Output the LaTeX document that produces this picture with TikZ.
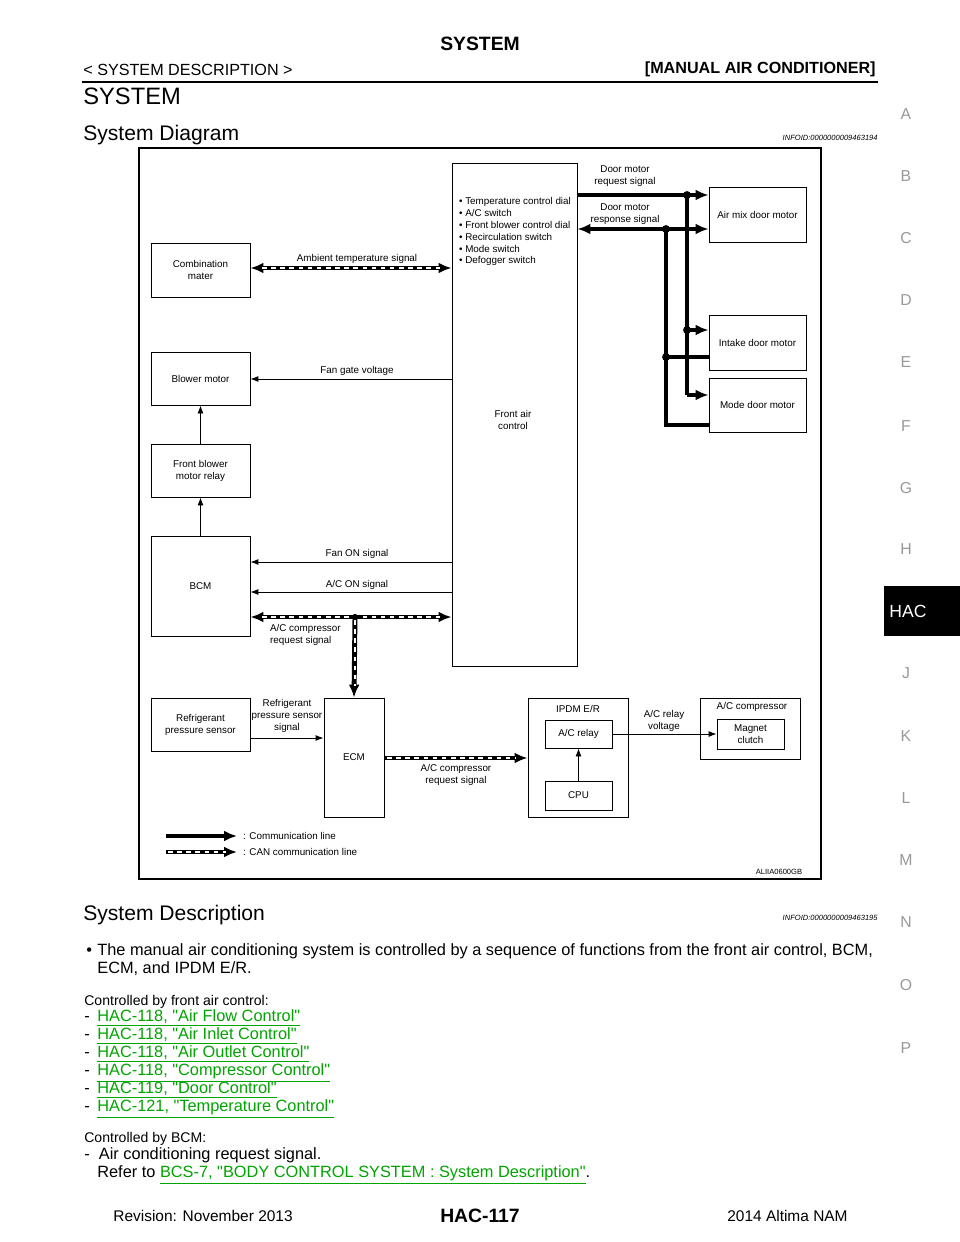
\documentclass[tikz,border=0pt]{standalone}
\usepackage{fontspec}
\setmainfont{Liberation Sans}
\usepackage{xcolor}
\usetikzlibrary{arrows.meta, positioning}
\definecolor{linkgreen}{RGB}{0,165,0}
\tikzset{
  box/.style={draw, line width=0.5pt, align=center, font=\fontsize{5.6}{6.8}\selectfont, inner sep=1pt},
  lbl/.style={align=center, font=\fontsize{5.6}{6.8}\selectfont, inner sep=1pt},
  comm/.style={line width=1.8pt, -{Latex[length=2.6mm,width=2.2mm]}},
  thin/.style={line width=0.5pt, -{Latex[length=1.6mm,width=1.2mm]}},
  canbase/.style={line width=2.8pt},
  candash/.style={white, line width=1pt, dash pattern=on 2.6pt off 2.6pt},
  jdot/.style={circle, fill, inner sep=0pt, minimum size=4.5pt},
  body/.style={anchor=base west, inner sep=0pt, font=\fontsize{9.3}{11}\selectfont},
  link/.style={body, text=linkgreen}
}
\newcommand\lnk[1]{\underline{#1}}
\newcommand\q{\textquotedbl}
\begin{document}
\begin{tikzpicture}[x=0.02cm, y=-0.02cm]
  \useasboundingbox[fill=white] (0,0) rectangle (960,1242);
  % Page header
  \node[font=\bfseries\fontsize{11}{13}\selectfont] (ttl) at (480,44) {SYSTEM};
  \node[body, font=\fontsize{9.2}{11}\selectfont] (sect) at (83,75) {< SYSTEM DESCRIPTION >};
  \node[anchor=base east, inner sep=0pt, font=\bfseries\fontsize{9.2}{11}\selectfont] (man) at (876,73) {[MANUAL AIR CONDITIONER]};
  \draw[line width=1.2pt] (82,82) -- (878,82);
  \node[body, font=\fontsize{13.5}{15}\selectfont] (h1) at (83,104) {SYSTEM};
  \node[body, font=\fontsize{12}{14}\selectfont] (h2) at (83,140) {System Diagram};
  \node[anchor=base east, inner sep=0pt, font=\itshape\fontsize{4.3}{5}\selectfont] (id1) at (878,140) {INFOID:0000000009463194};
  % Side index
  \foreach \c/\yy in {A/114,B/176,C/238,D/300,E/362,F/426,G/488,H/549,J/673,K/736,L/798,M/860,N/922,O/985,P/1048}{
    \node[text=black!40, font=\fontsize{9}{10}\selectfont] (side\c) at (906,\yy) {\c};
  }
  \fill (884,586) rectangle (960,636);
  \node[text=white, font=\fontsize{10}{12}\selectfont] (tab) at (908,611) {HAC};

  % Diagram frame
  \draw[line width=1.2pt] (139,148) rectangle (821,879);

  % Boxes
  \node[box, minimum width=2.5cm, minimum height=10.06cm] (fac) at (514.5,414.5) {};
  \node[lbl, anchor=north west, align=left] (items) at (457,195) {%
    • Temperature control dial\\ • A/C switch\\ • Front blower control dial\\
    • Recirculation switch\\ • Mode switch\\ • Defogger switch};
  \node[lbl] (facl) at (513,420) {Front air\\control};
  \node[box, minimum width=1.98cm, minimum height=1.08cm] (comb) at (200.5,270) {Combination\\mater};
  \node[box, minimum width=1.98cm, minimum height=1.06cm] (blow) at (200.5,378.5) {Blower motor};
  \node[box, minimum width=1.98cm, minimum height=1.06cm] (relay) at (200.5,470.5) {Front blower\\motor relay};
  \node[box, minimum width=1.98cm, minimum height=2cm] (bcm) at (200.5,586) {BCM};
  \node[box, minimum width=1.98cm, minimum height=1.06cm] (refs) at (200.5,724.5) {Refrigerant\\pressure sensor};
  \node[box, minimum width=1.2cm, minimum height=2.38cm] (ecm) at (354,757.5) {ECM};
  \node[box, minimum width=2cm, minimum height=2.38cm] (ipdm) at (578,757.5) {};
  \node[lbl] (ipdml) at (578,709) {IPDM E/R};
  \node[box, minimum width=1.34cm, minimum height=0.56cm] (acr) at (578.5,734) {A/C relay};
  \node[box, minimum width=1.34cm, minimum height=0.58cm] (cpu) at (578.5,795.5) {CPU};
  \node[box, minimum width=2cm, minimum height=1.22cm] (comp) at (750,728.5) {};
  \node[lbl] (compl) at (752,707) {A/C compressor};
  \node[box, minimum width=1.34cm, minimum height=0.6cm] (clutch) at (750.5,734) {Magnet\\clutch};
  \node[box, minimum width=1.94cm, minimum height=1.1cm] (amix) at (757.5,214.5) {Air mix door motor};
  \node[box, minimum width=1.94cm, minimum height=1.1cm] (intake) at (757.5,342.5) {Intake door motor};
  \node[box, minimum width=1.94cm, minimum height=1.08cm] (mode) at (757.5,405) {Mode door motor};

  % Door motor lines
  \coordinate (rq) at (687,195);
  \coordinate (rs) at (666,229);
  \draw[comm] (fac.east |- rq) -- (amix.west |- rq);
  \draw[line width=1.8pt] (rq) -- (687,395);
  \draw[comm] (687,330) -- (intake.west |- 0,330);
  \draw[comm] (687,395) -- (mode.west |- 0,395);
  \draw[line width=1.8pt, {Latex[length=2.6mm,width=2.2mm]}-{Latex[length=2.6mm,width=2.2mm]}] (fac.east |- rs) -- (amix.west |- rs);
  \draw[line width=1.8pt] (rs) -- (666,425) -- (mode.west |- 0,425);
  \draw[line width=1.8pt] (666,357) -- (intake.west |- 0,357);
  \node[jdot] (d1) at (rq) {};
  \node[jdot] (d2) at (687,330) {};
  \node[jdot] (d3) at (rs) {};
  \node[jdot] (d4) at (666,357) {};
  \node[lbl] (rql) at (625,176) {Door motor\\request signal};
  \node[lbl] (rsl) at (625,214) {Door motor\\response signal};

  % CAN lines
  \draw[canbase, {Latex[length=2.6mm,width=2.2mm]}-{Latex[length=2.6mm,width=2.2mm]}] (comb.east |- 0,268) -- (fac.west |- 0,268);
  \draw[candash] (262,268) -- (440,268);
  \node[lbl] (ambl) at (357,259) {Ambient temperature signal};
  \draw[canbase, {Latex[length=2.6mm,width=2.2mm]}-{Latex[length=2.6mm,width=2.2mm]}] (bcm.east |- 0,617) -- (fac.west |- 0,617);
  \draw[canbase, -{Latex[length=2.6mm,width=2.2mm]}] (355,617) -- (ecm.north);
  \draw[candash] (262,617) -- (440,617);
  \draw[candash] (355,620) -- (355,686);
  \node[jdot, minimum size=3.5pt] (d5) at (355,617) {};
  \node[lbl, anchor=north west, align=left] (reql1) at (268,622) {A/C compressor\\request signal};
  \draw[canbase, -{Latex[length=2.6mm,width=2.2mm]}] (ecm.east |- 0,758) -- (ipdm.west |- 0,758);
  \draw[candash] (387,758) -- (516,758);
  \node[lbl, anchor=north] (reql2) at (456,762) {A/C compressor\\request signal};

  % Signal lines
  \draw[thin] (fac.west |- 0,379) -- (blow.east |- 0,379);
  \node[lbl] (fgl) at (357,371) {Fan gate voltage};
  \draw[thin] (relay.north) -- (blow.south);
  \draw[thin] (bcm.north) -- (relay.south);
  \draw[thin] (fac.west |- 0,562) -- (bcm.east |- 0,562);
  \node[lbl] (fanl) at (357,554) {Fan ON signal};
  \draw[thin] (fac.west |- 0,592) -- (bcm.east |- 0,592);
  \node[lbl] (acl) at (357,585) {A/C ON signal};
  \draw[thin] (refs.east |- 0,738) -- (ecm.west |- 0,738);
  \node[lbl] (refl) at (287,716) {Refrigerant\\pressure sensor\\signal};
  \draw[thin] (acr.east) -- (clutch.west);
  \node[lbl] (acvl) at (664,721) {A/C relay\\voltage};
  \draw[thin] (cpu.north) -- (acr.south);

  % Legend
  \draw[comm] (166,836) -- (237,836);
  \node[lbl, anchor=west] (lg1) at (241,836) {: Communication line};
  \draw[canbase, -{Latex[length=2.6mm,width=2.2mm]}] (166,852) -- (237,852);
  \draw[candash] (168,852) -- (226,852);
  \node[lbl, anchor=west] (lg2) at (241,852) {: CAN communication line};
  \node[lbl, font=\fontsize{4.3}{5}\selectfont] (code) at (779,872) {ALIIA0600GB};

  % Description
  \node[body, font=\fontsize{12}{14}\selectfont] (h3) at (83,920) {System Description};
  \node[anchor=base east, inner sep=0pt, font=\itshape\fontsize{4.3}{5}\selectfont] (id2) at (878,920) {INFOID:0000000009463195};
  \node[body] (b1) at (86,955) {•};
  \node[body] (b2) at (97,955) {The manual air conditioning system is controlled by a sequence of functions from the front air control, BCM,};
  \node[body] (b3) at (97,973) {ECM, and IPDM E/R.};
  \node[body, font=\fontsize{8}{9}\selectfont] (c1) at (84,1005) {Controlled by front air control:};
  \foreach \t [count=\k] in {HAC-118{,} \q Air Flow Control\q,HAC-118{,} \q Air Inlet Control\q,HAC-118{,} \q Air Outlet Control\q,
      HAC-118{,} \q Compressor Control\q,HAC-119{,} \q Door Control\q,HAC-121{,} \q Temperature Control\q}{
    \node[body] (dash\k) at (84,1003+18*\k) {-};
    \node[link] (l\k) at (97,1003+18*\k) {\lnk{\t}};
  }
  \node[body, font=\fontsize{8}{9}\selectfont] (c2) at (84,1142) {Controlled by BCM:};
  \node[body] (a1) at (84,1159) {-\ \ Air conditioning request signal.};
  \node[body] (a2) at (97,1177) {Refer to \textcolor{linkgreen}{\lnk{BCS-7, \q BODY CONTROL SYSTEM : System Description\q}}.};

  % Footer
  \node[body, font=\fontsize{8.8}{10}\selectfont] (rev) at (113,1221) {Revision: November 2013};
  \node[font=\bfseries\fontsize{11}{13}\selectfont] (pg) at (480,1216) {HAC-117};
  \node[anchor=base east, inner sep=0pt, font=\fontsize{8.8}{10}\selectfont] (car) at (848,1221) {2014 Altima NAM};
\end{tikzpicture}
\end{document}
